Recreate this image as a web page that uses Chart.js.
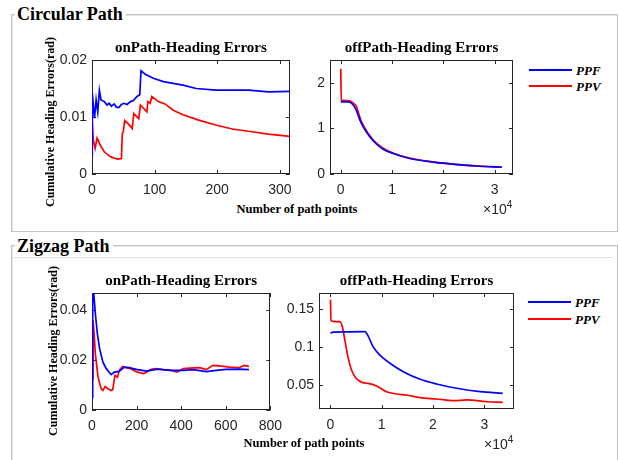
<!DOCTYPE html>
<html>
<head>
<meta charset="utf-8">
<script src="https://cdn.jsdelivr.net/npm/chart.js@4.4.0/dist/chart.umd.min.js"></script>
<style>
    body { margin: 0; background: #fff; width: 620px; height: 460px; position: relative; overflow: hidden; }
    .panel { position: absolute; border: 1px solid #c4c4c4; box-shadow: inset 1px 1px 0 #e4e4e4; }
    .ptitle { position: absolute; background: #fff; font: bold 18px "Liberation Serif", serif; color: #000; padding: 0 3px 0 2px; line-height: 18px; }
    canvas { position: absolute; }
    .lab { position: absolute; font: bold 12.5px "Liberation Serif", serif; color: #000; white-space: nowrap; transform: translate(-50%, -50%); }
    .lab.rot { font-size: 12px; transform: translate(-50%, -50%) rotate(-90deg); }
    .exp { position: absolute; font: 14px "Liberation Sans", sans-serif; color: #262626; }
    .exp sup { font-size: 10px; vertical-align: 6px; }
    .leg { position: absolute; font: italic bold 13px "Liberation Serif", serif; color: #000; line-height: 16px; }
    .leg span { display: inline-block; width: 43px; height: 2px; vertical-align: 4px; margin-right: 4px; }
</style>
</head>
<body>

<!-- 分组框 -->
<div class="panel" style="left:11px;top:14px;width:605px;height:216px;"></div>
<div class="ptitle" style="left:15px;top:5px;">Circular Path</div>
<div class="panel" style="left:11px;top:245px;width:605px;height:230px;"></div>
<div style="position:absolute;left:13px;top:257px;width:600px;height:1px;background:#e0e0e0;"></div>
<div class="ptitle" style="left:15px;top:237px;">Zigzag Path</div>

<canvas id="c1" width="248" height="158" style="left:52px;top:40px;"></canvas>
<canvas id="c2" width="230" height="158" style="left:290px;top:40px;"></canvas>
<canvas id="c3" width="240" height="161" style="left:50px;top:273px;"></canvas>
<canvas id="c4" width="246" height="160" style="left:275px;top:273px;"></canvas>

<div class="lab rot" style="left:50px;top:122px;">Cumulative Heading Errors(rad)</div>
<div class="lab" style="left:297px;top:209px;">Number of path points</div>
<div class="exp" style="left:483px;top:199px;">×10<sup>4</sup></div>
<div class="leg" style="left:529px;top:63px;"><span style="background:#0000ff"></span>PPF</div>
<div class="leg" style="left:529px;top:79px;"><span style="background:#ff0000"></span>PPV</div>

<div class="lab rot" style="left:53px;top:351px;">Cumulative Heading Errors(rad)</div>
<div class="lab" style="left:304px;top:443px;">Number of path points</div>
<div class="exp" style="left:484px;top:434px;">×10<sup>4</sup></div>
<div class="leg" style="left:528px;top:295px;"><span style="background:#0000ff"></span>PPF</div>
<div class="leg" style="left:528px;top:312px;"><span style="background:#ff0000"></span>PPV</div>

<script>
    // Circular Path - onPath
    const circOnX_PPF = [0, 0.5, 4, 6.6, 9.2, 11.8, 14.4, 19.7, 24, 27.5, 31, 35.4, 39, 43.2, 47, 51, 56, 61.6, 66, 72, 76.3, 78.3, 85, 98, 114, 129.7, 145.4, 166.4, 197.8, 229, 250, 281.7, 316];
    const circOnY_PPF = [0.0033, 0.0141, 0.0098, 0.0130, 0.0109, 0.0147, 0.0130, 0.0127, 0.0121, 0.0124, 0.0119, 0.0123, 0.0117, 0.0117, 0.0122, 0.0124, 0.0122, 0.0127, 0.0129, 0.0136, 0.0139, 0.0181, 0.0175, 0.0168, 0.0162, 0.0159, 0.0156, 0.0150, 0.0147, 0.0147, 0.0147, 0.0144, 0.0145];
    const circOnX_PPV = [0, 2, 5, 8.1, 11.8, 15, 19.7, 25, 30.2, 35, 40.6, 45.9, 47, 48.4, 50, 52.2, 58, 64.2, 66.8, 74.7, 77.3, 87.7, 89.3, 93, 95.6, 106, 116.7, 129.7, 145.4, 171.7, 197.8, 224, 250, 281.7, 316];
    const circOnY_PPV = [0.0098, 0.0060, 0.0045, 0.0063, 0.0054, 0.0047, 0.0039, 0.0034, 0.0030, 0.0028, 0.0026, 0.0027, 0.0027, 0.0071, 0.0074, 0.0094, 0.0088, 0.0080, 0.0106, 0.0097, 0.0121, 0.0109, 0.0127, 0.0124, 0.0136, 0.0127, 0.0123, 0.0112, 0.0104, 0.0094, 0.0086, 0.0079, 0.0075, 0.0070, 0.0066];

    // Circular Path - offPath (x in 10^4)
    const circOffX_PPF = [0, 0.14, 0.24, 0.31, 0.36, 0.42, 0.5, 0.63, 0.82, 1.02, 1.34, 1.8, 2.32, 2.71, 3.14];
    const circOffY_PPF = [1.58, 1.58, 1.52, 1.38, 1.22, 1.07, 0.92, 0.73, 0.55, 0.45, 0.34, 0.26, 0.2, 0.17, 0.15];
    const circOffX_PPV = [0, 0.01, 0.14, 0.24, 0.31, 0.34, 0.40, 0.5, 0.63, 0.82, 1.02, 1.34, 1.8, 2.32, 2.71, 3.14];
    const circOffY_PPV = [2.31, 1.62, 1.61, 1.56, 1.47, 1.36, 1.16, 0.95, 0.75, 0.57, 0.46, 0.35, 0.265, 0.205, 0.175, 0.15];

    // Zigzag Path - onPath
    const zigOnX_PPF = [0, 3, 8, 15, 24, 34, 49, 64, 86, 100, 122, 145, 167, 203, 247, 292, 351, 410, 454, 513, 557, 601, 660, 704];
    const zigOnY_PPF = [0.005, 0.0465, 0.0465, 0.0385, 0.0305, 0.0245, 0.0191, 0.0165, 0.0141, 0.0151, 0.0154, 0.0171, 0.0169, 0.0161, 0.0155, 0.0163, 0.0158, 0.0158, 0.0161, 0.0153, 0.0158, 0.0162, 0.0163, 0.0161];
    const zigOnX_PPV = [0, 4.4, 9, 15, 27, 41, 49, 59, 71, 86, 93, 103, 115, 122, 137, 152, 174, 203, 233, 262, 285, 321, 358, 380, 410, 439, 483, 513, 542, 572, 616, 660, 682, 704];
    const zigOnY_PPV = [0.0125, 0.0358, 0.0311, 0.0225, 0.0131, 0.0085, 0.0078, 0.0094, 0.0085, 0.0078, 0.0081, 0.0138, 0.0131, 0.0158, 0.0174, 0.0169, 0.0165, 0.0151, 0.0145, 0.0161, 0.0165, 0.0161, 0.0158, 0.0151, 0.0165, 0.0167, 0.0169, 0.0161, 0.0178, 0.0176, 0.0171, 0.0169, 0.0178, 0.0174];

    // Zigzag Path - offPath (x in 10^4)
    const zigOffX_PPF = [0, 0.05, 0.67, 0.74, 0.83, 0.96, 1.16, 1.42, 1.75, 2.07, 2.46, 2.92, 3.36];
    const zigOffY_PPF = [0.118, 0.1194, 0.1202, 0.1136, 0.1005, 0.0897, 0.0788, 0.0678, 0.0579, 0.0517, 0.0461, 0.0416, 0.0395];
    const zigOffX_PPV = [0, 0.01, 0.08, 0.18, 0.23, 0.28, 0.34, 0.41, 0.50, 0.63, 0.73, 0.90, 1.09, 1.29, 1.48, 1.75, 2.07, 2.40, 2.66, 3.05, 3.36];
    const zigOffY_PPV = [0.1617, 0.1342, 0.1333, 0.1333, 0.1267, 0.1093, 0.0875, 0.070, 0.0592, 0.0534, 0.0526, 0.0491, 0.0416, 0.0386, 0.0373, 0.0338, 0.0321, 0.0299, 0.0308, 0.0285, 0.0277];

    // 刻度
    const ticksX1 = [0, 100, 200, 300], labelsX1 = ['0', '100', '200', '300'];
    const ticksY1 = [0, 0.01, 0.02], labelsY1 = ['0', '0.01', '0.02'];
    const ticksX2 = [0, 1, 2, 3], labelsX2 = ['0', '1', '2', '3'];
    const ticksY2 = [0, 1, 2], labelsY2 = ['0', '1', '2'];
    const ticksX3 = [0, 200, 400, 600, 800], labelsX3 = ['0', '200', '400', '600', '800'];
    const ticksY3 = [0, 0.02, 0.04], labelsY3 = ['0', '0.02', '0.04'];
    const ticksX4 = [0, 1, 2, 3], labelsX4 = ['0', '1', '2', '3'];
    const ticksY4 = [0.05, 0.1, 0.15], labelsY4 = ['0.05', '0.1', '0.15'];

    const pts = (xs, ys) => xs.map((x, i) => ({ x: x, y: ys[i] }));

    // MATLAB 风格的坐标框和向内刻度
    const boxPlugin = {
        id: 'box',
        beforeDatasetsDraw(chart) {
            const { ctx, chartArea: a, scales } = chart;
            ctx.save();
            ctx.strokeStyle = '#262626';
            ctx.lineWidth = 1;
            ctx.strokeRect(Math.round(a.left) + 0.5, Math.round(a.top) + 0.5, Math.round(a.right - a.left) - 1, Math.round(a.bottom - a.top) - 1);
            ctx.beginPath();
            scales.x.ticks.forEach(t => {
                const p = Math.round(scales.x.getPixelForValue(t.value)) + 0.5;
                ctx.moveTo(p, a.bottom); ctx.lineTo(p, a.bottom - 4);
                ctx.moveTo(p, a.top); ctx.lineTo(p, a.top + 4);
            });
            scales.y.ticks.forEach(t => {
                const p = Math.round(scales.y.getPixelForValue(t.value)) + 0.5;
                ctx.moveTo(a.left, p); ctx.lineTo(a.left + 4, p);
                ctx.moveTo(a.right, p); ctx.lineTo(a.right - 4, p);
            });
            ctx.stroke();
            ctx.restore();
        }
    };

    function makeChart(id, title, series, x, y, yW, padR, smooth) {
        const tickFont = { family: '"Liberation Sans", sans-serif', size: 14 };
        new Chart(document.getElementById(id), {
            type: 'line',
            data: {
                datasets: series.map(s => ({
                    data: pts(s[0], s[1]),
                    borderColor: s[2],
                    borderWidth: 1.7,
                    pointRadius: 0,
                    tension: 0,
                    cubicInterpolationMode: smooth ? 'monotone' : 'default'
                }))
            },
            options: {
                responsive: false,
                animation: false,
                layout: { padding: { right: padR, left: 0, top: 0, bottom: 0 } },
                plugins: {
                    legend: { display: false },
                    tooltip: { enabled: false },
                    title: {
                        display: true,
                        text: title,
                        fullSize: false,
                        color: '#000',
                        font: { family: '"Liberation Serif", serif', size: 15, weight: 'bold', lineHeight: 1 },
                        padding: { top: 1, bottom: 4 }
                    }
                },
                scales: {
                    x: {
                        type: 'linear',
                        min: x.min, max: x.max,
                        grid: { display: false, drawTicks: false },
                        border: { display: false },
                        afterBuildTicks: s => { s.ticks = x.ticks.map(v => ({ value: v })); },
                        afterFit: s => { s.height = 24; },
                        ticks: { autoSkip: false, maxRotation: 0, padding: 8, color: '#262626', font: tickFont, callback: (v, i) => x.labels[i] }
                    },
                    y: {
                        type: 'linear',
                        min: y.min, max: y.max,
                        grid: { display: false, drawTicks: false },
                        border: { display: false },
                        afterBuildTicks: s => { s.ticks = y.ticks.map(v => ({ value: v })); },
                        afterFit: s => { s.width = yW; },
                        ticks: { autoSkip: false, padding: 5, color: '#262626', font: tickFont, callback: (v, i) => y.labels[i] }
                    }
                }
            },
            plugins: [boxPlugin]
        });
    }

    makeChart('c1', 'onPath-Heading Errors',
        [[circOnX_PPF, circOnY_PPF, '#0000ff'], [circOnX_PPV, circOnY_PPV, '#ff0000']],
        { min: 0, max: 316, ticks: ticksX1, labels: labelsX1 },
        { min: 0, max: 0.02, ticks: ticksY1, labels: labelsY1 }, 40, 7, false);

    makeChart('c2', 'offPath-Heading Errors',
        [[circOffX_PPF, circOffY_PPF, '#0000ff'], [circOffX_PPV, circOffY_PPV, '#ff0000']],
        { min: -0.21, max: 3.36, ticks: ticksX2, labels: labelsX2 },
        { min: 0, max: 2.5, ticks: ticksY2, labels: labelsY2 }, 40, 7, true);

    makeChart('c3', 'onPath-Heading Errors',
        [[zigOnX_PPF, zigOnY_PPF, '#0000ff'], [zigOnX_PPV, zigOnY_PPV, '#ff0000']],
        { min: 0, max: 800, ticks: ticksX3, labels: labelsX3 },
        { min: 0, max: 0.0467, ticks: ticksY3, labels: labelsY3 }, 42, 17, false);

    makeChart('c4', 'offPath-Heading Errors',
        [[zigOffX_PPF, zigOffY_PPF, '#0000ff'], [zigOffX_PPV, zigOffY_PPV, '#ff0000']],
        { min: -0.224, max: 3.58, ticks: ticksX4, labels: labelsX4 },
        { min: 0.019, max: 0.1706, ticks: ticksY4, labels: labelsY4 }, 44, 7, true);
</script>
</body>
</html>
